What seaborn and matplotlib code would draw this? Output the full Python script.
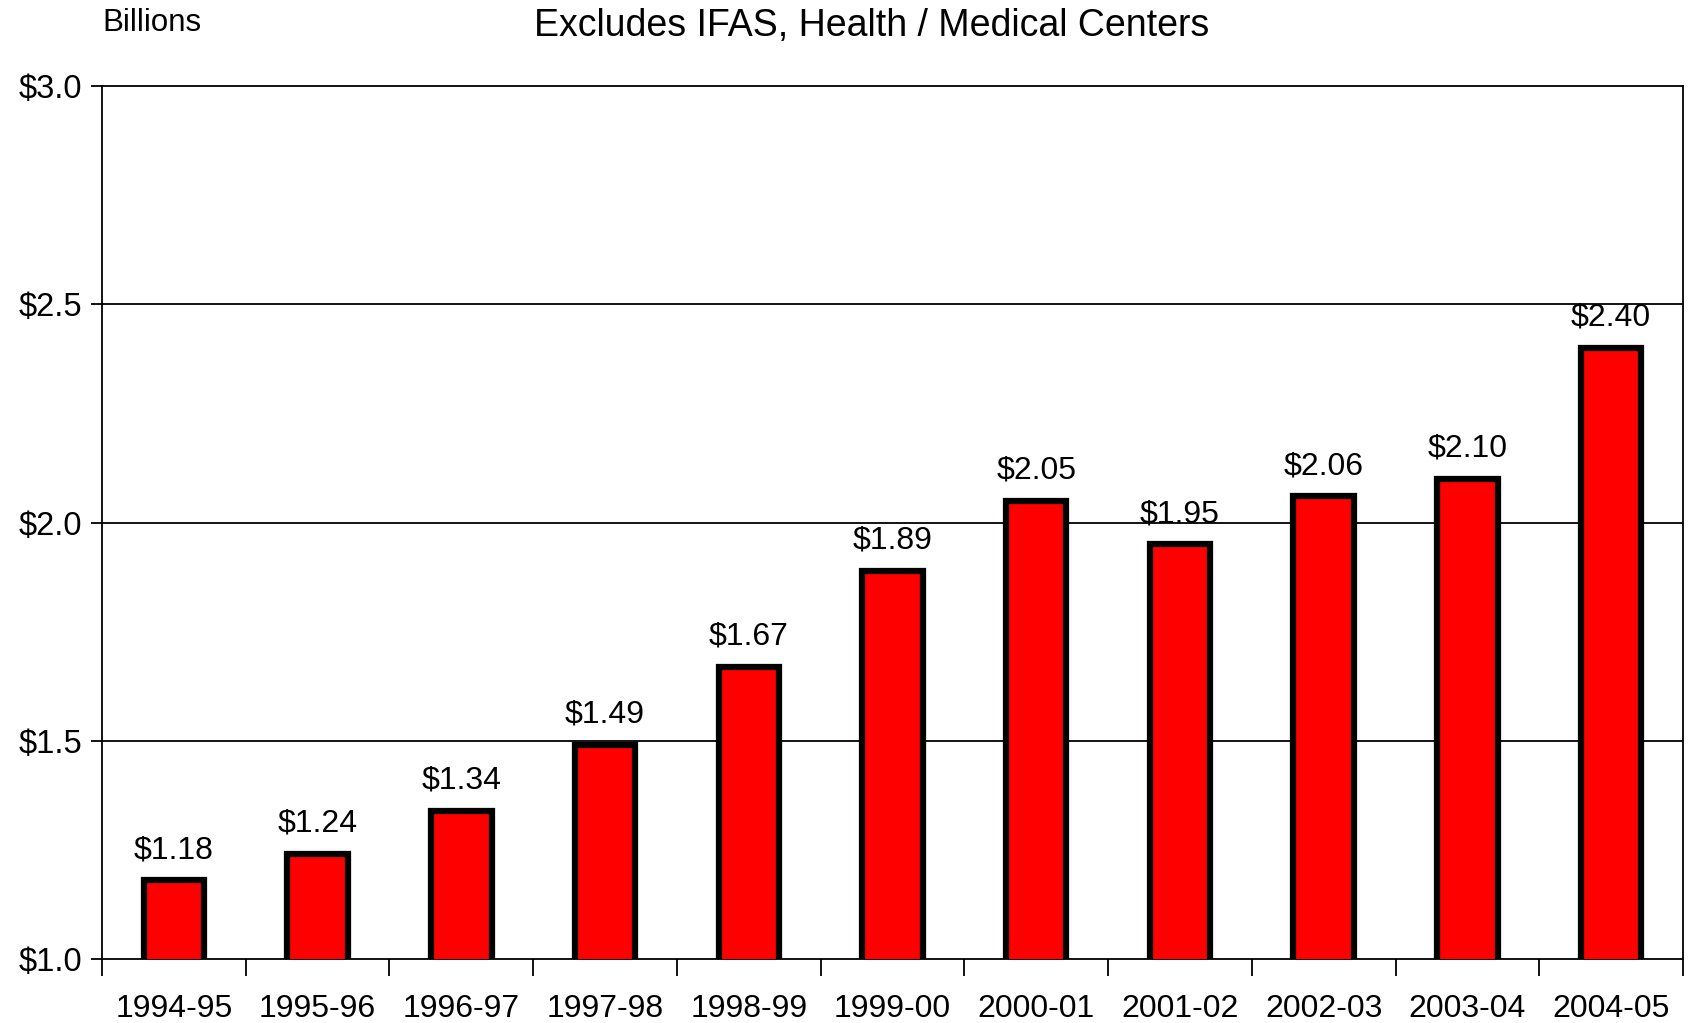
import numpy as np
import pandas as pd
import matplotlib
matplotlib.use("Agg")
import matplotlib.pyplot as plt
import seaborn as sns

#%% data
years = ['1994-95', '1995-96', '1996-97', '1997-98', '1998-99', '1999-00',
         '2000-01', '2001-02', '2002-03', '2003-04', '2004-05']
values = [1.18, 1.24, 1.34, 1.49, 1.67, 1.89, 2.05, 1.95, 2.06, 2.10, 2.40]
y_ticks = [1.0, 1.5, 2.0, 2.5, 3.0]

df = pd.DataFrame({'year': years, 'billions': values})

#%% style
sns.set_style('white')
plt.rcParams['font.family'] = ['Liberation Sans', 'DejaVu Sans']
plt.rcParams['text.color'] = 'black'

fig = plt.figure(figsize=(16.88, 10.23), dpi=100)
ax = fig.add_axes([102 / 1688, 1 - 959 / 1023, (1683 - 102) / 1688, (959 - 86) / 1023])

sns.barplot(data=df, x='year', y='billions', color='#ff0000', saturation=1,
            edgecolor='black', linewidth=4.5, width=0.42, ax=ax, zorder=3)

ax.set_ylim(1.0, 3.0)
ax.set_xlim(-0.5, len(years) - 0.5)
ax.set_yticks(y_ticks)
ax.set_yticklabels(['${:.1f}'.format(v) for v in y_ticks], fontsize=23.5, color='black')
ax.set_xlabel('')
ax.set_ylabel('')

# gridlines
for v in y_ticks[1:-1]:
    ax.axhline(v, color='black', linewidth=1.3, zorder=1)

# ticks between categories
ax.set_xticks(np.arange(len(years)))
ax.set_xticklabels(years, fontsize=23, color='black')
ax.set_xticks(np.arange(-0.5, len(years)), minor=True)
ax.tick_params(axis='x', which='both', bottom=True)
ax.tick_params(axis='x', which='major', length=0, pad=25)
ax.tick_params(axis='x', which='minor', length=12, width=1.3, color='black', direction='out')
ax.tick_params(axis='y', left=True, length=8, width=1.3, color='black', direction='out', pad=6)

for s in ax.spines.values():
    s.set_visible(True)
    s.set_color('black')
    s.set_linewidth(1.3)

# value labels
for i, v in enumerate(values):
    ax.text(i, v + 0.035, '${:.2f}'.format(v), ha='center', va='bottom', fontsize=23, color='black')

fig.text(872 / 1688, 1 - 26 / 1023, 'Excludes IFAS, Health / Medical Centers',
         ha='center', va='center', fontsize=27, color='black')
fig.text(102 / 1688, 1 - 23 / 1023, 'Billions', ha='left', va='center', fontsize=22.5, color='black')

plt.savefig('out.png', dpi=100)
